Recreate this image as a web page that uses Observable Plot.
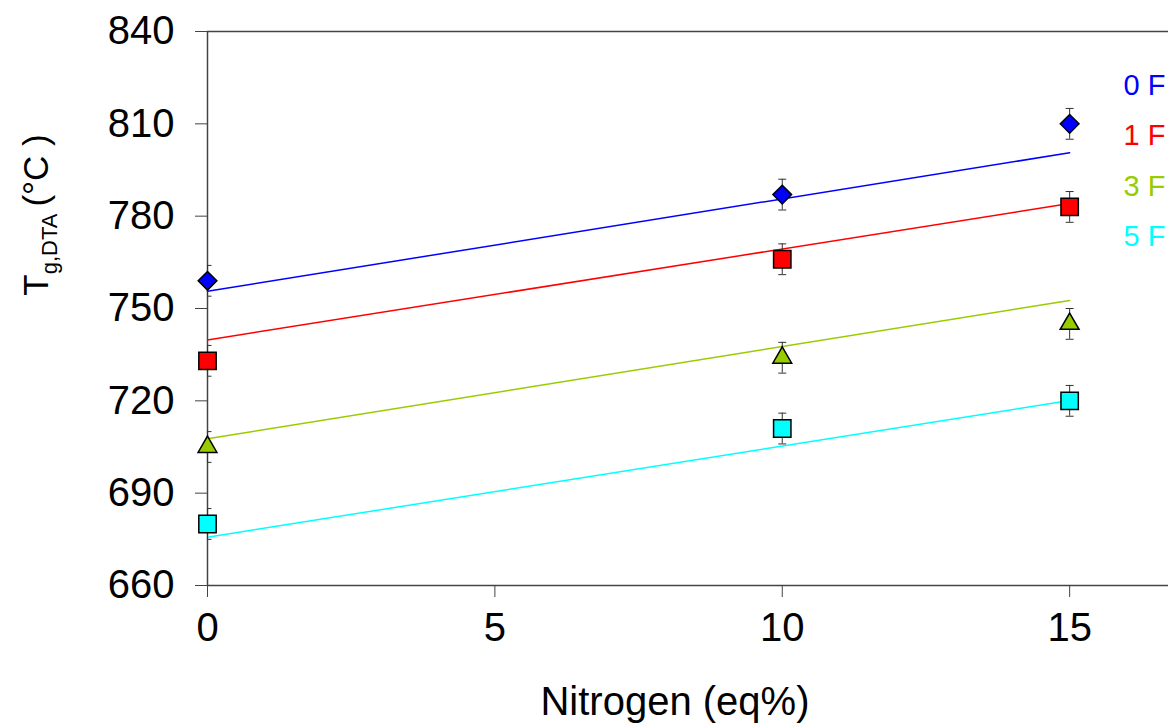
<!DOCTYPE html>
<html><head><meta charset="utf-8">
<script src="https://cdn.jsdelivr.net/npm/d3@7"></script>
<script src="https://cdn.jsdelivr.net/npm/@observablehq/plot@0.6"></script>
<style>body{margin:0;background:#fff} svg{display:block}</style>
</head><body><div id="chart"></div>
<script>
// ---- data ----
const nitrogen = [0, 10, 15];
const seriesNames = ["0 F", "1 F", "3 F", "5 F"];
const seriesColors = ["#0000FF", "#FF0000", "#99CC00", "#00FFFF"];
const seriesSymbols = ["diamond2", "square", "triangle", "square"];
const tg0F = [759, 787, 810];
const tg1F = [733, 766, 783];
const tg3F = [705, 734, 745];
const tg5F = [680, 711, 720];
const errTg = [5, 5, 5];
const fitX = [0, 15];
const fit0F = [755.6, 800.6];
const fit1F = [739.8, 784.1];
const fit3F = [707.7, 752.6];
const fit5F = [675.7, 720.1];
const xTicks = [0, 5, 10, 15];
const yTicks = [660, 690, 720, 750, 780, 810, 840];

const seriesValues = [tg0F, tg1F, tg3F, tg5F];
const seriesFits = [fit0F, fit1F, fit3F, fit5F];

const points = seriesNames.flatMap((s, i) =>
  nitrogen.map((x, j) => ({series: s, idx: i, x, y: seriesValues[i][j], e: errTg[j]})));
const fits = seriesNames.flatMap((s, i) =>
  fitX.map((x, j) => ({series: s, x, y: seriesFits[i][j]})));

const capSymbol = {draw(ctx, size) { const w = Math.sqrt(size) / 2; ctx.moveTo(-w, 0); ctx.lineTo(w, 0); }};
const symR = {"diamond2": 8.4, "square": 9.8, "triangle": 7.0};

const axisColor = "#444";
const marks = [
  Plot.ruleY([660, 840], {stroke: axisColor, strokeWidth: 1.5}),
  Plot.ruleX([0], {stroke: axisColor, strokeWidth: 1.5}),
  Plot.axisY({ticks: yTicks, tickSize: 12, tickPadding: 21, fontSize: 40, label: null, stroke: axisColor, fill: "black"}),
  Plot.axisX({ticks: xTicks, tickSize: 12, tickPadding: 15, fontSize: 40, label: null, stroke: axisColor, fill: "black"}),
  Plot.line(fits, {x: "x", y: "y", z: "series", stroke: "series", strokeWidth: 1.5}),
  Plot.ruleX(points, {x: "x", y1: d => d.y - d.e, y2: d => d.y + d.e, stroke: "#333", strokeWidth: 1, clip: true}),
  Plot.dot(points, {x: "x", y: d => d.y + d.e, symbol: capSymbol, r: 4.5, stroke: "#333", strokeWidth: 1, clip: true}),
  Plot.dot(points, {x: "x", y: d => d.y - d.e, symbol: capSymbol, r: 4.5, stroke: "#333", strokeWidth: 1, clip: true}),
  ...seriesNames.map((s, i) => Plot.dot(points.filter(d => d.idx === i), {
    x: "x", y: "y", symbol: () => seriesSymbols[i], r: symR[seriesSymbols[i]],
    fill: seriesColors[i], stroke: "black", strokeWidth: 1.5
  })),
  ...seriesNames.map((s, i) => Plot.text([s], {
    text: d => d, frameAnchor: "top-right", textAnchor: "end", lineAnchor: "middle",
    dx: -3, dy: 54 + i * 50.5, fontSize: 29, fill: seriesColors[i]
  }))
];

const chart = Plot.plot({
  width: 1168, height: 726,
  marginLeft: 207, marginRight: 0, marginTop: 31, marginBottom: 141,
  x: {domain: [0, 16.72]},
  y: {domain: [660, 840]},
  color: {domain: seriesNames, range: seriesColors},
  style: {fontFamily: "Arial, 'Liberation Sans', sans-serif", background: "white", overflow: "visible", color: "black"},
  marks
});

const svg = d3.select(chart);
// y-axis title with subscript
const yt = svg.append("text")
  .attr("transform", "translate(48,215) rotate(-90)")
  .attr("text-anchor", "middle")
  .attr("font-family", "Arial, 'Liberation Sans', sans-serif")
  .attr("font-size", 35).attr("fill", "black");
yt.append("tspan").text("T");
yt.append("tspan").attr("font-size", 22).attr("dy", 9).text("g,DTA");
yt.append("tspan").attr("dy", -9).text("\u2009(°C )");
// x-axis title
svg.append("text")
  .attr("x", 675).attr("y", 715)
  .attr("text-anchor", "middle")
  .attr("font-family", "Arial, 'Liberation Sans', sans-serif")
  .attr("font-size", 40).attr("fill", "black")
  .text("Nitrogen (eq%)");

document.getElementById("chart").append(chart);
</script>
</body></html>
